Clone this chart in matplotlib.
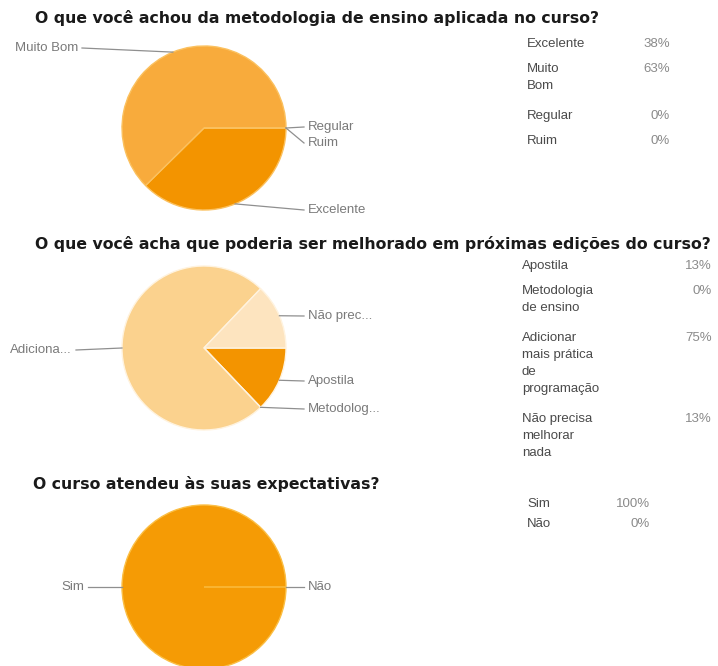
import numpy as np
import matplotlib
matplotlib.use("Agg")
import matplotlib.pyplot as plt

# --- survey data -------------------------------------------------------
q1_title = "O que você achou da metodologia de ensino aplicada no curso?"
q1_categories = ["Excelente", "Muito Bom", "Regular", "Ruim"]
q1_table_labels = ["Excelente", "Muito\nBom", "Regular", "Ruim"]
q1_values = [38, 63, 0, 0]
q1_pie_labels = ["Excelente", "Muito Bom", "Regular", "Ruim"]

q2_title = "O que você acha que poderia ser melhorado em próximas edições do curso?"
q2_categories = ["Apostila", "Metodologia de ensino",
                 "Adicionar mais prática de programação",
                 "Não precisa melhorar nada"]
q2_table_labels = ["Apostila", "Metodologia\nde ensino",
                   "Adicionar\nmais prática\nde\nprogramação",
                   "Não precisa\nmelhorar\nnada"]
q2_values = [13, 0, 75, 13]
q2_pie_labels = ["Apostila", "Metodolog...", "Adiciona...", "Não prec..."]

q3_title = "O curso atendeu às suas expectativas?"
q3_categories = ["Sim", "Não"]
q3_table_labels = ["Sim", "Não"]
q3_values = [100, 0]
q3_pie_labels = ["Sim", "Não"]

# --- figure in pixel coordinates ---------------------------------------
W, H = 718, 666
fig = plt.figure(figsize=(W / 100, H / 100), dpi=100)
ax = fig.add_axes([0, 0, 1, 1])

FONT = "Liberation Sans"
LABEL_GREY = "#7a7a7a"
TABLE_GREY = "#4a4a4a"
LINE_GREY = "#8f8f8f"


def draw_pie(values, colors, center, radius, edge):
    # y axis is inverted, so counterclock in data runs clockwise on screen
    wedges, _ = ax.pie(values, colors=colors, startangle=0, counterclock=True,
                       center=center, radius=radius, normalize=True,
                       wedgeprops=dict(edgecolor=edge, linewidth=1.0))
    return wedges


def leader(wedge, text, tx, ty, side):
    mid = np.deg2rad((wedge.theta1 + wedge.theta2) / 2)
    cx, cy = wedge.center
    px = cx + wedge.r * np.cos(mid)
    py = cy + wedge.r * np.sin(mid)
    if side == "right":
        ax.plot([px, tx - 4], [py, ty], color=LINE_GREY, lw=0.9)
        ax.text(tx, ty, text, ha="left", va="center", fontsize=9.5,
                color=LABEL_GREY, family=FONT)
    else:
        ax.plot([tx + 4, px], [ty, py], color=LINE_GREY, lw=0.9)
        ax.text(tx, ty, text, ha="right", va="center", fontsize=9.5,
                color=LABEL_GREY, family=FONT)


def table(labels, values, x_label, x_value, ys):
    for lab, val, y in zip(labels, values, ys):
        ax.text(x_label, y, lab, ha="left", va="top", fontsize=9.5,
                color=TABLE_GREY, family=FONT, linespacing=1.55)
        ax.text(x_value, y, f"{val}%", ha="right", va="top", fontsize=9.5,
                color="#8a8a8a", family=FONT)


def title(text, x, y):
    ax.text(x, y, text, ha="left", va="center", fontsize=11.3,
            fontweight="bold", color="#1a1a1a", family="DejaVu Sans")


# --- question 1 --------------------------------------------------------
title(q1_title, 35, 18)
w1 = draw_pie(q1_values, ["#f39400", "#f8ab3c", "#e0e0e0", "#d0d0d0"],
              (204, 128), 82, "#fbc15f")
leader(w1[0], q1_pie_labels[0], 308, 210, "right")
leader(w1[1], q1_pie_labels[1], 78, 48, "left")
leader(w1[2], q1_pie_labels[2], 308, 127, "right")
leader(w1[3], q1_pie_labels[3], 308, 143, "right")
table(q1_table_labels, q1_values, 527, 670, [38, 63, 110, 135])

# --- question 2 --------------------------------------------------------
title(q2_title, 35, 244)
w2 = draw_pie(q2_values, ["#f39400", "#f7b04a", "#fbd28e", "#fde4bf"],
              (204, 348), 82, "#fff3df")
leader(w2[0], q2_pie_labels[0], 308, 381, "right")
leader(w2[1], q2_pie_labels[1], 308, 409, "right")
leader(w2[2], q2_pie_labels[2], 72, 350, "left")
leader(w2[3], q2_pie_labels[3], 308, 316, "right")
table(q2_table_labels, q2_values, 522, 712, [260, 285, 332, 413])

# --- question 3 --------------------------------------------------------
title(q3_title, 33, 484)
w3 = draw_pie(q3_values, ["#f59b05", "#e0e0e0"], (204, 587), 82, "#fbbf45")
leader(w3[0], q3_pie_labels[0], 84, 587, "left")
leader(w3[1], q3_pie_labels[1], 308, 587, "right")
table(q3_table_labels, q3_values, 527, 650, [498, 518])

ax.set_xlim(0, W)
ax.set_ylim(H, 0)
ax.set_aspect("equal")
ax.axis("off")

fig.savefig("out.png", dpi=100, facecolor="white")
